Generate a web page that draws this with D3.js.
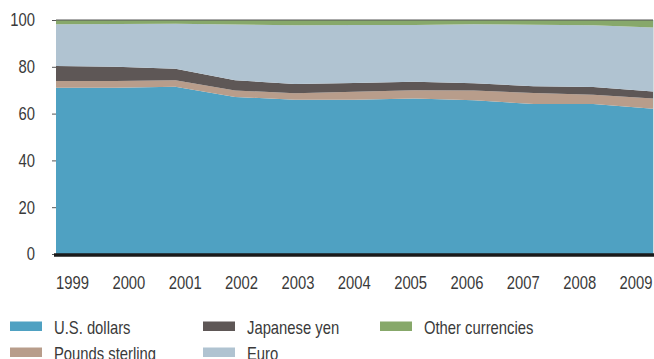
<!DOCTYPE html>
<html>
<head>
<meta charset="utf-8">
<script src="https://cdn.jsdelivr.net/npm/d3@7"></script>
<style>
  html, body { margin: 0; padding: 0; background: #fff; }
  svg { display: block; }
  text { font-family: "Liberation Sans", Arial, sans-serif; fill: #3a3a3a; }
</style>
</head>
<body>
<svg id="chart" width="654" height="359"></svg>
<script>
// Currency composition of official foreign exchange reserves, percent of total
const years = ["1999", "2000", "2001", "2002", "2003", "2004", "2005", "2006", "2007", "2008", "2009"];
const usDollars      = [71.0, 71.1, 71.5, 67.1, 65.9, 65.9, 66.4, 65.7, 64.1, 64.1, 62.1];
const poundsSterling = [2.9, 2.8, 2.7, 2.8, 2.8, 3.4, 3.6, 4.2, 4.7, 4.0, 4.3];
const japaneseYen    = [6.4, 6.1, 5.0, 4.4, 3.9, 3.8, 3.6, 3.1, 2.9, 3.3, 3.0];
const euro           = [17.9, 18.3, 19.2, 23.8, 25.2, 24.8, 24.3, 25.2, 26.3, 26.4, 27.4];
const otherCurrencies = [1.8, 1.7, 1.6, 1.9, 2.2, 2.1, 2.1, 1.8, 2.0, 2.2, 3.2];
const yTicks = [0, 20, 40, 60, 80, 100];

const series = [
  { key: "usd",   name: "U.S. dollars",     values: usDollars,       color: "#4fa1c2" },
  { key: "gbp",   name: "Pounds sterling",  values: poundsSterling,  color: "#b89d8b" },
  { key: "jpy",   name: "Japanese yen",     values: japaneseYen,     color: "#5e5756" },
  { key: "eur",   name: "Euro",             values: euro,            color: "#b0c3d1" },
  { key: "other", name: "Other currencies", values: otherCurrencies, color: "#87a86a" }
];

const rows = years.map((yr, i) => {
  const r = { year: yr };
  series.forEach(s => { r[s.key] = s.values[i]; });
  return r;
});

const svg = d3.select("#chart");
const plotLeft = 56, plotRight = 653, plotTop = 20, plotBottom = 254;
const FONT = 18.5, SQUEEZE = 0.8;   // condensed text: full height, narrowed width

const x = d3.scalePoint().domain(years).range([plotLeft, plotRight]);
const y = d3.scaleLinear().domain([0, 100]).range([plotBottom, plotTop]);
// year labels sit on their own evenly spaced slots under the plot
const xLabel = d3.scalePoint().domain(years).range([72.5, 636]);

const stack = d3.stack().keys(series.map(s => s.key));
const layers = stack(rows);

const area = d3.area()
  .x(d => x(d.data.year))
  .y0(d => y(Math.min(d[0], 100)))
  .y1(d => y(Math.min(d[1], 100)));

svg.append("g").selectAll("path")
  .data(layers)
  .join("path")
  .attr("d", area)
  .attr("fill", (d, i) => series[i].color);

// Top border at 100
svg.append("line")
  .attr("x1", plotLeft).attr("x2", plotRight)
  .attr("y1", y(100)).attr("y2", y(100))
  .attr("stroke", "#555").attr("stroke-width", 1);

// Right edge
svg.append("line")
  .attr("x1", plotRight + 0.5).attr("x2", plotRight + 0.5)
  .attr("y1", y(100)).attr("y2", y(0))
  .attr("stroke", "#d8dde0").attr("stroke-width", 1);

// Y axis: short ticks and labels
const yAxis = d3.axisLeft(y).tickValues(yTicks).tickSize(4).tickPadding(17).tickFormat(d3.format("d"));
const gy = svg.append("g").attr("transform", `translate(${plotLeft},0)`).call(yAxis);
gy.select(".domain").remove();
gy.selectAll(".tick line").attr("stroke", "#555");
gy.selectAll(".tick text")
  .attr("font-size", FONT).attr("font-family", null)
  .attr("x", -21 / SQUEEZE)
  .attr("transform", `scale(${SQUEEZE},1)`)
  .style("fill", "#3a3a3a");

// Baseline
svg.append("line")
  .attr("x1", plotLeft - 2).attr("x2", 654)
  .attr("y1", y(0) + 1).attr("y2", y(0) + 1)
  .attr("stroke", "#1a1a1a").attr("stroke-width", 3.5);

// Year labels
svg.append("g").selectAll("text")
  .data(years)
  .join("text")
  .attr("transform", d => `translate(${xLabel(d)},289) scale(${SQUEEZE},1)`)
  .attr("text-anchor", "middle")
  .attr("font-size", FONT)
  .text(d => d);

// Legend
const legendPos = [
  { x: 10,  y: 321.5 },
  { x: 10,  y: 347.5 },
  { x: 203, y: 321.5 },
  { x: 203, y: 347.5 },
  { x: 380, y: 321.5 }
];
const order = ["usd", "gbp", "jpy", "eur", "other"];
const lg = svg.append("g").selectAll("g")
  .data(order.map((k, i) => ({ s: series.find(s => s.key === k), p: legendPos[i] })))
  .join("g")
  .attr("transform", d => `translate(${d.p.x},${d.p.y})`);
lg.append("rect").attr("width", 32).attr("height", 9.5).attr("fill", d => d.s.color);
lg.append("text")
  .attr("transform", `translate(44,12) scale(${SQUEEZE},1)`)
  .attr("font-size", FONT)
  .text(d => d.s.name);
</script>
</body>
</html>
